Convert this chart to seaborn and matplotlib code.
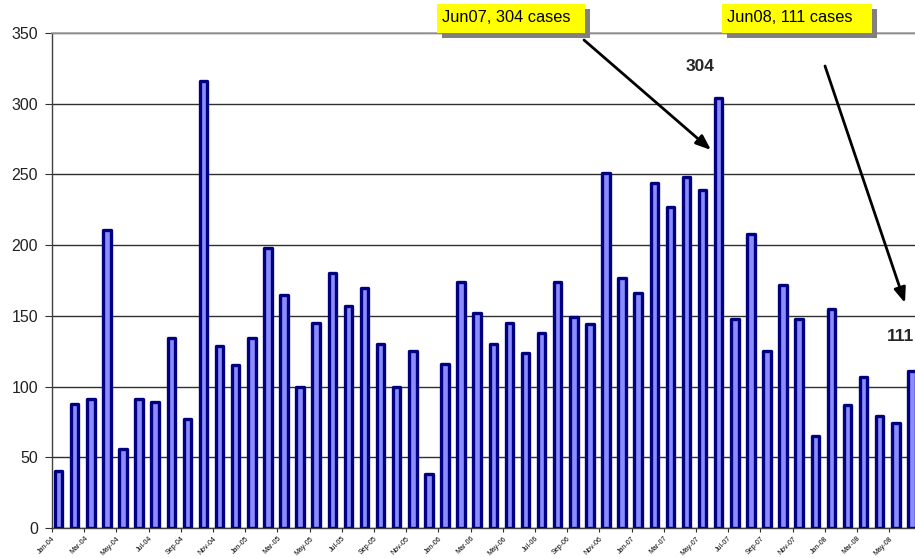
import matplotlib
matplotlib.use("Agg")
import matplotlib.pyplot as plt
import matplotlib.patches as mpatches
import numpy as np
import pandas as pd
import seaborn as sns

# ---------------------------------------------------------------------------
# Data (monthly case counts, Jan-04 .. Jun-08)
# ---------------------------------------------------------------------------
cases = [40, 88, 91, 211, 56, 91, 89, 134, 77, 316,
         129, 115, 134, 198, 165, 100, 145, 180, 157, 170,
         130, 100, 125, 38, 116, 174, 152, 130, 145, 124,
         138, 174, 149, 144, 251, 177, 166, 244, 227, 248,
         239, 304, 148, 208, 125, 172, 148, 65, 155, 87,
         107, 79, 74, 111]

tick_labels = ["Jan-04", "Mar-04", "May-04", "Jul-04", "Sep-04", "Nov-04",
               "Jan-05", "Mar-05", "May-05", "Jul-05", "Sep-05", "Nov-05",
               "Jan-06", "Mar-06", "May-06", "Jul-06", "Sep-06", "Nov-06",
               "Jan-07", "Mar-07", "May-07", "Jul-07", "Sep-07", "Nov-07",
               "Jan-08", "Mar-08", "May-08"]

callouts = ["Jun07, 304 cases", "Jun08, 111 cases"]
peak_idx, last_idx = 41, 53

# ---------------------------------------------------------------------------
# Style
# ---------------------------------------------------------------------------
sns.set_style("white")
plt.rcParams["font.family"] = ["Liberation Sans", "DejaVu Sans"]

NAVY = "#000080"
FILL = "#8C8CFF"
W, H = 915, 558
PX = 16.1  # pixels per category

fig = plt.figure(figsize=(W / 100, H / 100), dpi=100)
x_left = -0.41
x_right = 53.6
ax = fig.add_axes([52 / W, 30 / H, (x_right - x_left) * PX / W, 495 / H])

df = pd.DataFrame({"idx": np.arange(len(cases)), "cases": cases})
sns.barplot(data=df, x="idx", y="cases", ax=ax, native_scale=True,
            width=0.46, color=FILL, saturation=1,
            edgecolor=NAVY, linewidth=2.4, zorder=3)
for p in ax.patches:
    p.set_joinstyle("round")
    p.set_linewidth(2.4)
    p.set_edgecolor(NAVY)

ax.set_xlim(x_left, x_right)
ax.set_ylim(0, 350)
ax.set_yticks(np.arange(0, 351, 50))
ax.yaxis.grid(True, color="#303030", linewidth=1.0, zorder=0)
ax.set_axisbelow(True)

ax.set_xticks([i - 0.41 for i in range(0, len(cases), 2)])
ax.set_xticklabels(tick_labels, rotation=45, ha="right", fontsize=5,
                   rotation_mode="anchor", color="black")
ax.tick_params(axis="x", length=3, width=0.8, color="#303030", pad=2,
               bottom=True)
ax.tick_params(axis="y", length=5, width=0.8, color="#303030", pad=5,
               labelsize=11.5, left=True, labelcolor="#222222")
ax.set_xlabel("")
ax.set_ylabel("")

for side in ["left", "bottom"]:
    ax.spines[side].set_color("#404040")
    ax.spines[side].set_linewidth(1.0)
ax.spines["top"].set_color("#a0a0a0")
ax.spines["top"].set_linewidth(1.2)
ax.spines["right"].set_visible(False)

# value labels
ax.text(peak_idx - 1.17, 326, str(cases[peak_idx]), ha="center", va="center",
        fontsize=12.5, fontweight="bold", zorder=5)
ax.text(last_idx - 0.72, 135.4, str(cases[last_idx]), ha="center", va="center",
        fontsize=12.5, fontweight="bold", zorder=5, clip_on=False)

# yellow callout boxes with shadow (figure pixel coordinates)
boxes = [(436.7, 4, 148.3, 29), (721.7, 4, 150, 29)]
for (bx, by, bw, bh), label in zip(boxes, callouts):
    shadow = mpatches.Rectangle(((bx + 5) / W, 1 - (by + bh + 5) / H), bw / W, bh / H,
                                transform=fig.transFigure, facecolor="#808080",
                                edgecolor="none", zorder=10)
    box = mpatches.Rectangle((bx / W, 1 - (by + bh) / H), bw / W, bh / H,
                             transform=fig.transFigure, facecolor="#FFFF00",
                             edgecolor="none", zorder=11)
    fig.patches.extend([shadow, box])
    fig.text((bx + 5) / W, 1 - (by + bh / 2 - 1) / H, label, ha="left", va="center",
             fontsize=11.8, color="black", zorder=12)

# arrows
arrows = [((584, H - 40), (711, H - 150)), ((825, H - 66), (905, H - 303))]
for start, tip in arrows:
    ax.annotate("", xy=tip, xytext=start, xycoords="figure pixels",
                textcoords="figure pixels",
                arrowprops=dict(arrowstyle="-|>,head_length=0.9,head_width=0.35",
                                color="black", lw=2, shrinkA=0, shrinkB=0),
                zorder=9)

fig.savefig("out.png", dpi=100)
